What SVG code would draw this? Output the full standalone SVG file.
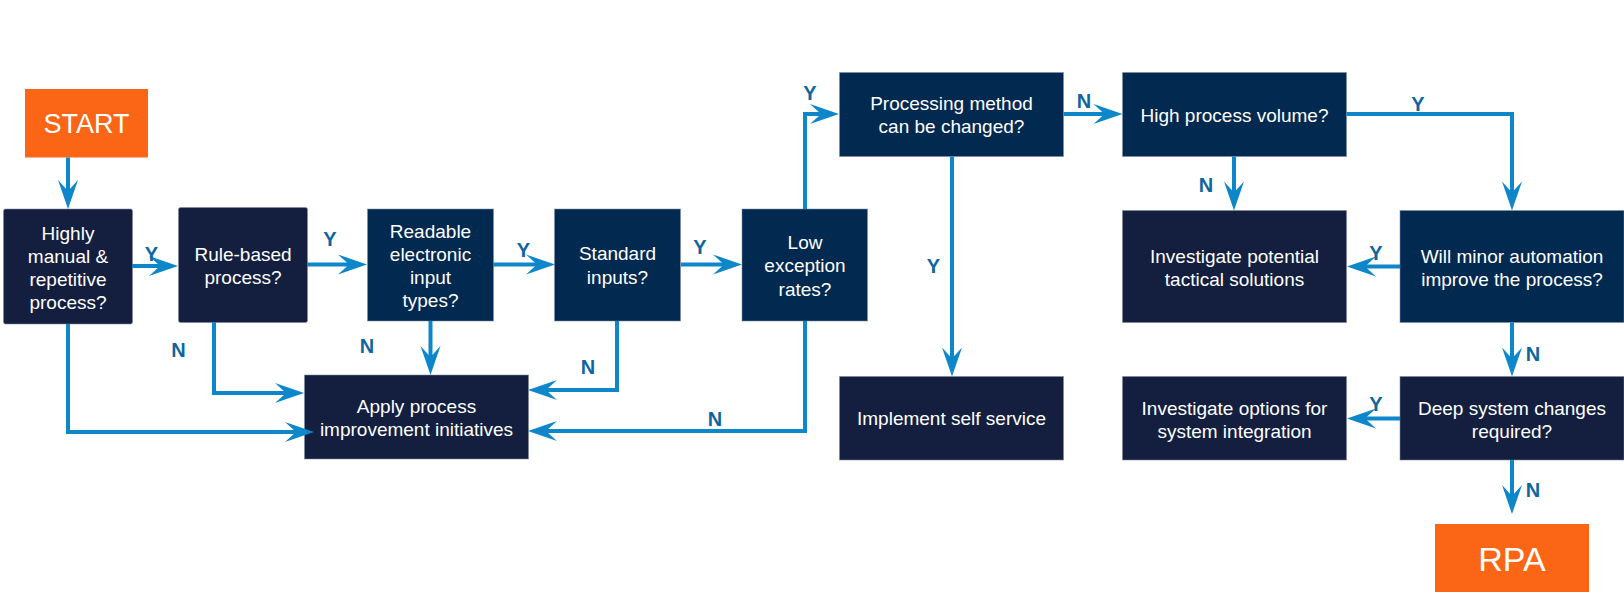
<svg xmlns="http://www.w3.org/2000/svg" width="1624" height="603" viewBox="0 0 1624 603">
<style>
.dark{fill:#141F40;stroke:#7a879d;stroke-width:1;stroke-opacity:.55}
.blue{fill:#02294F;stroke:#7a8ea6;stroke-width:1;stroke-opacity:.55}
.term{fill:#FA6616}
.t{font-family:"Liberation Sans",Arial,sans-serif;font-size:19px;fill:#FFFFFF;text-anchor:middle}
.tt{font-family:"Liberation Sans",Arial,sans-serif;fill:#FFFFFF;text-anchor:middle}
.c{fill:none;stroke:#0E86CA;stroke-width:4;marker-end:url(#ah)}
.l{font-family:"Liberation Sans",Arial,sans-serif;font-size:20px;font-weight:bold;fill:#0E65A0;text-anchor:middle}
</style>
<defs>
<marker id="ah" markerUnits="userSpaceOnUse" markerWidth="34" markerHeight="24" viewBox="-32 -12 34 24" refX="-8" refY="0" orient="auto">
<path d="M0,0 L-29,-10 L-18,0 L-29,10 Z" fill="#0E86CA"/>
</marker>
</defs>
<rect width="1624" height="603" fill="#FFFFFF"/>

<g id="start"><rect class="term" x="25" y="89" width="123" height="68.5"/><text class="tt" x="86.5" y="133" font-size="27">START</text></g>

<g id="n1"><rect class="dark" x="3.5" y="209" width="129" height="115" rx="2"/>
<text class="t" x="68" y="239.5">Highly</text><text class="t" x="68" y="262.5">manual &amp;</text><text class="t" x="68" y="285.5">repetitive</text><text class="t" x="68" y="308.5">process?</text></g>

<g id="n2"><rect class="dark" x="178.5" y="207.5" width="129" height="115" rx="2"/>
<text class="t" x="243" y="260.5">Rule-based</text><text class="t" x="243" y="284">process?</text></g>

<g id="n3"><rect class="blue" x="367.5" y="209" width="126" height="112"/>
<text class="t" x="430.5" y="237.5">Readable</text><text class="t" x="430.5" y="260.5">electronic</text><text class="t" x="430.5" y="283.5">input</text><text class="t" x="430.5" y="306.5">types?</text></g>

<g id="n4"><rect class="blue" x="554.5" y="209" width="126" height="112"/>
<text class="t" x="617.5" y="260">Standard</text><text class="t" x="617.5" y="283.5">inputs?</text></g>

<g id="n5"><rect class="blue" x="742" y="209" width="125.5" height="112"/>
<text class="t" x="805" y="249">Low</text><text class="t" x="805" y="272">exception</text><text class="t" x="805" y="295.5">rates?</text></g>

<g id="n6"><rect class="blue" x="839.5" y="72.5" width="224" height="84"/>
<text class="t" x="951.5" y="110">Processing method</text><text class="t" x="951.5" y="133">can be changed?</text></g>

<g id="n7"><rect class="dark" x="839.5" y="376.5" width="224" height="83.5"/>
<text class="t" x="951.5" y="425">Implement self service</text></g>

<g id="n8"><rect class="blue" x="1122.5" y="72.5" width="224" height="84"/>
<text class="t" x="1234.5" y="121.5">High process volume?</text></g>

<g id="n9"><rect class="dark" x="1122.5" y="210.5" width="224" height="112"/>
<text class="t" x="1234.5" y="262.5">Investigate potential</text><text class="t" x="1234.5" y="286">tactical solutions</text></g>

<g id="n10"><rect class="blue" x="1400" y="210.5" width="224" height="112"/>
<text class="t" x="1512" y="263">Will minor automation</text><text class="t" x="1512" y="286">improve the process?</text></g>

<g id="n11"><rect class="dark" x="1400" y="376.5" width="224" height="83.5"/>
<text class="t" x="1512" y="415">Deep system changes</text><text class="t" x="1512" y="438">required?</text></g>

<g id="n12"><rect class="dark" x="1122.5" y="376.5" width="224" height="83.5"/>
<text class="t" x="1234.5" y="415">Investigate options for</text><text class="t" x="1234.5" y="438">system integration</text></g>

<g id="apply"><rect class="dark" x="304.5" y="375" width="224" height="84"/>
<text class="t" x="416.5" y="413">Apply process</text><text class="t" x="416.5" y="436">improvement initiatives</text></g>

<g id="rpa"><rect class="term" x="1435" y="524" width="154" height="68"/><text class="tt" x="1512" y="570.5" font-size="34">RPA</text></g>

<g id="connectors">
<path class="c" d="M68,157.5 V201"/>
<path class="c" d="M132,266 H170"/>
<path class="c" d="M307,264.5 H359"/>
<path class="c" d="M493,264.5 H547"/>
<path class="c" d="M681,264.5 H734"/>
<path class="c" d="M68,324 V432 H306"/>
<path class="c" d="M214,322 V393 H296"/>
<path class="c" d="M430.5,321 V367"/>
<path class="c" d="M617,321 V390 H536"/>
<path class="c" d="M805,321 V431 H536"/>
<path class="c" d="M805,209 V114 H831"/>
<path class="c" d="M952,156.5 V368.5"/>
<path class="c" d="M1063.5,114 H1114.5"/>
<path class="c" d="M1346.5,114 H1512 V202.5"/>
<path class="c" d="M1234,156.5 V202.5"/>
<path class="c" d="M1400,266.5 H1355"/>
<path class="c" d="M1512,322.5 V368.5"/>
<path class="c" d="M1400,418.5 H1355"/>
<path class="c" d="M1512,460 V506"/>
</g>

<g id="labels">
<text class="l" x="151.5" y="260.5">Y</text>
<text class="l" x="330" y="246">Y</text>
<text class="l" x="523.5" y="257">Y</text>
<text class="l" x="700" y="253.5">Y</text>
<text class="l" x="178.5" y="356.5">N</text>
<text class="l" x="367" y="353">N</text>
<text class="l" x="588" y="374">N</text>
<text class="l" x="715" y="425.5">N</text>
<text class="l" x="933.5" y="273">Y</text>
<text class="l" x="810" y="99.5">Y</text>
<text class="l" x="1084" y="107.5">N</text>
<text class="l" x="1418" y="111">Y</text>
<text class="l" x="1206" y="192">N</text>
<text class="l" x="1376" y="259.5">Y</text>
<text class="l" x="1533" y="360.5">N</text>
<text class="l" x="1376" y="410.5">Y</text>
<text class="l" x="1533" y="497">N</text>
</g>
</svg>
